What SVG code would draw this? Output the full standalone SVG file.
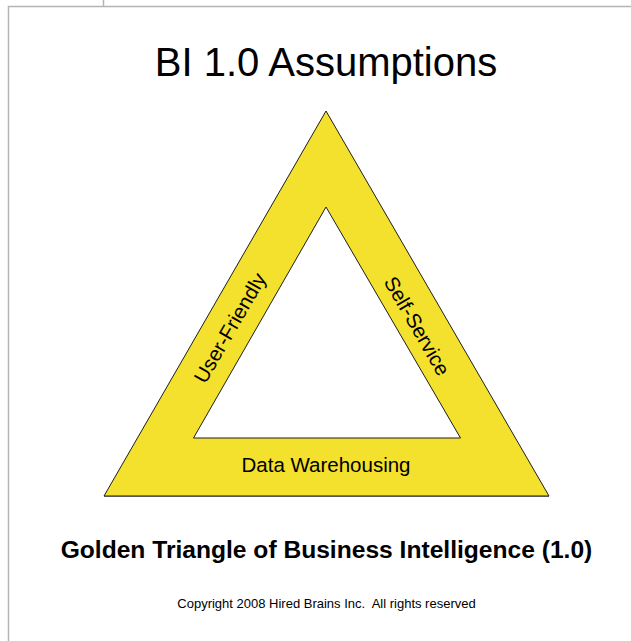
<svg xmlns="http://www.w3.org/2000/svg" width="631" height="641" viewBox="0 0 631 641">
  <style>
    .frame { stroke: #b4b4b4; stroke-width: 1.5; fill: none; }
    .band { fill: #f3e12e; stroke: #1e1e1e; stroke-width: 1; fill-rule: evenodd; stroke-linejoin: miter; }
    .txt { font-family: "Liberation Sans", Arial, sans-serif; fill: #000; text-anchor: middle; }
    .side { font-size: 20.5px; }
  </style>
  <rect width="631" height="641" fill="#ffffff"/>

  <!-- page frame -->
  <g id="frame">
    <path class="frame" d="M8.5 641 V6.5 H631"/>
    <path class="frame" d="M103.5 0 V6.5"/>
  </g>

  <g id="title">
    <text class="txt" x="326" y="76" font-size="40">BI 1.0 Assumptions</text>
  </g>

  <!-- golden triangle band -->
  <g id="triangle">
    <path class="band" d="M326 111 L549 496 L104 496 Z M326 207 L193.5 438 L460.5 438 Z"/>
    <path d="M104 496.5 H549" stroke="#555" stroke-width="1.2" fill="none"/>
  </g>

  <g id="label-user-friendly">
    <text class="txt side" transform="translate(230 328) rotate(-60)" y="7">User-Friendly</text>
  </g>
  <g id="label-self-service">
    <text class="txt side" transform="translate(417 326) rotate(60)" y="7">Self-Service</text>
  </g>
  <g id="label-data-warehousing">
    <text class="txt side" x="326" y="472">Data Warehousing</text>
  </g>

  <g id="caption">
    <text class="txt" x="326.5" y="558" font-size="24.6" font-weight="bold">Golden Triangle of Business Intelligence (1.0)</text>
    <text class="txt" x="326.5" y="608" font-size="13" xml:space="preserve">Copyright 2008 Hired Brains Inc.  All rights reserved</text>
  </g>
</svg>
